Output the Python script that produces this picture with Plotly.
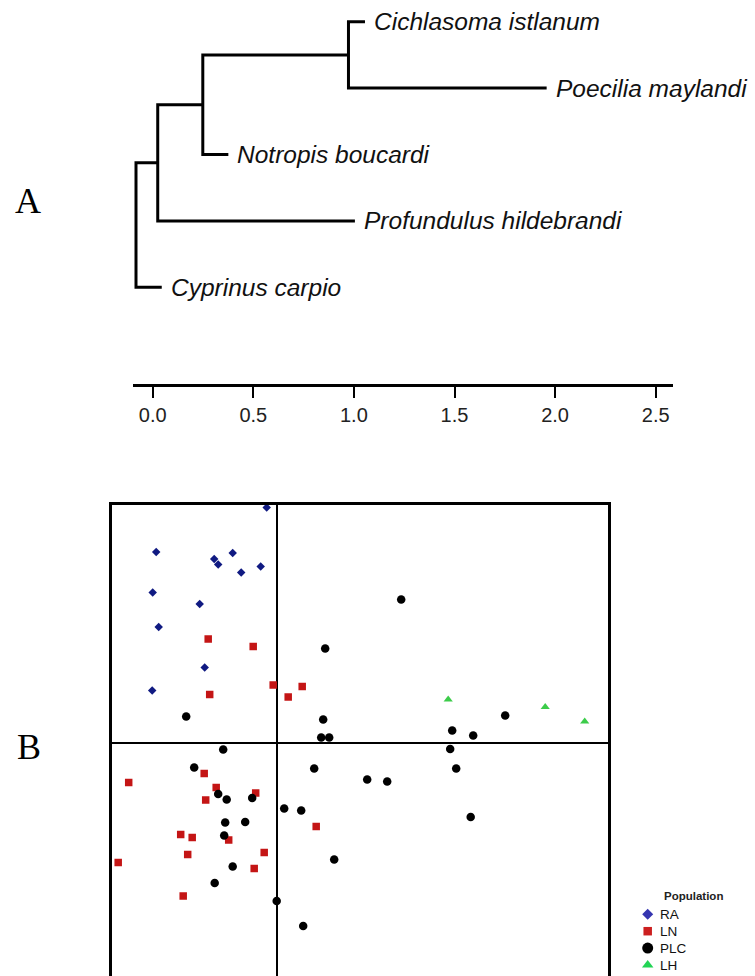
import plotly.graph_objects as go

W, H = 755, 976

# ---------------- Panel A: tree data ----------------
taxa = ["Cichlasoma istlanum", "Poecilia maylandi", "Notropis boucardi",
        "Profundulus hildebrandi", "Cyprinus carpio"]
tip_row = [4, 3, 2, 1, 0]
tip_depth = [1.055, 1.958, 0.376, 1.005, 0.045]

node_names = ["n4", "n3", "n2", "root"]
node_depth = [0.973, 0.249, 0.025, -0.083]
node_children = [["Cichlasoma istlanum", "Poecilia maylandi"],
                 ["n4", "Notropis boucardi"],
                 ["n3", "Profundulus hildebrandi"],
                 ["n2", "Cyprinus carpio"]]
scale_ticks = [0.0, 0.5, 1.0, 1.5, 2.0, 2.5]

# ---------------- Panel B: scatter data ----------------
populations = ["RA", "LN", "PLC", "LH"]
RA_x = [-0.20, -2.41, -1.25, -0.88, -1.17, -0.71, -0.32, -2.48, -1.54, -2.36, -1.44, -2.49]
RA_y = [4.70, 3.81, 3.67, 3.79, 3.56, 3.40, 3.52, 3.00, 2.77, 2.31, 1.50, 1.04]
LN_x = [-1.37, -0.47, -0.07, 0.51, 0.23, -1.34, -2.96, -1.45, -1.21, -0.42, -1.42, 0.79,
        -1.92, -1.69, -0.96, -0.25, -1.78, -3.17, -0.45, -1.87]
LN_y = [2.07, 1.92, 1.15, 1.12, 0.91, 0.96, -0.80, -0.62, -0.90, -1.01, -1.15, -1.68,
        -1.84, -1.90, -1.95, -2.20, -2.24, -2.40, -2.52, -3.07]
PLC_x = [2.49, 0.97, -1.81, 0.93, 4.57, 3.51, 3.93, 0.89, 1.05, -1.07, 3.47, -1.65, 0.75,
         3.59, 1.81, 2.21, -1.17, -1.00, -0.49, 0.15, 0.49, 3.88, -1.03, -0.63, -1.05,
         1.15, -0.88, -1.24, 0.00, 0.53]
PLC_y = [2.86, 1.88, 0.52, 0.46, 0.54, 0.24, 0.14, 0.10, 0.10, -0.14, -0.13, -0.50, -0.52,
         -0.52, -0.74, -0.78, -1.03, -1.14, -1.11, -1.32, -1.36, -1.49, -1.60, -1.59, -1.86,
         -2.34, -2.48, -2.81, -3.17, -3.67]
LH_x = [3.43, 5.37, 6.16]
LH_y = [0.86, 0.71, 0.42]

pop_x = [RA_x, LN_x, PLC_x, LH_x]
pop_y = [RA_y, LN_y, PLC_y, LH_y]
pop_symbol = ["diamond", "square", "circle", "triangle-up"]
pop_color = ["#101a82", "#c41515", "#000000", "#3ccc4a"]
pop_size = [6.5, 7.5, 8.5, 8]
legend_color = ["#3535b0", "#cc1f1f", "#000000", "#22d455"]
legend_size = [8.5, 8.5, 11, 10]

fig = go.Figure()

# ---- tree layout ----
pos = {}
for name, d, r in zip(taxa, tip_depth, tip_row):
    pos[name] = (d, r)
for name, d, ch in zip(node_names, node_depth, node_children):
    ys = [pos[c][1] for c in ch]
    pos[name] = (d, sum(ys) / len(ys))

lx, ly = [], []
for name, d, ch in zip(node_names, node_depth, node_children):
    c1, c2 = ch
    lx += [pos[c1][0], d, d, pos[c2][0], None]
    ly += [pos[c1][1], pos[c1][1], pos[c2][1], pos[c2][1], None]

fig.add_trace(go.Scatter(x=lx, y=ly, mode="lines", xaxis="x", yaxis="y",
                         line=dict(color="black", width=3), showlegend=False,
                         hoverinfo="skip", cliponaxis=False))

for name, d, r in zip(taxa, tip_depth, tip_row):
    fig.add_annotation(x=d, y=r, xref="x", yref="y", text=f"<i>{name}</i>",
                       showarrow=False, xanchor="left", yanchor="middle", xshift=7,
                       font=dict(family="Liberation Sans, Arial", size=24.5, color="#111"))

# ---- scatter panel ----
for p, xs, ys, sym, col, sz in zip(populations, pop_x, pop_y, pop_symbol, pop_color, pop_size):
    fig.add_trace(go.Scatter(x=xs, y=ys, mode="markers", xaxis="x2", yaxis="y2", name=p,
                             marker=dict(symbol=sym, color=col, size=sz, opacity=1,
                                         line=dict(width=0)),
                             showlegend=False, cliponaxis=False))

# ---- manual legend ----
leg_rows = list(range(len(populations)))
fig.add_trace(go.Scatter(x=[0] * len(populations), y=leg_rows, mode="markers",
                         xaxis="x3", yaxis="y3", showlegend=False, hoverinfo="skip",
                         marker=dict(symbol=pop_symbol, color=legend_color, size=legend_size,
                                     opacity=1, line=dict(width=0)), cliponaxis=False))
for p, r in zip(populations, leg_rows):
    fig.add_annotation(x=0, y=r, xref="x3", yref="y3", text=p, showarrow=False,
                       xanchor="left", yanchor="middle", xshift=10,
                       font=dict(family="Liberation Sans, Arial", size=13.5, color="#111"))
fig.add_annotation(x=661.5 / W, y=1 - 895.7 / H, xref="paper", yref="paper",
                   text="<b>Population</b>", showarrow=False, xanchor="left", yanchor="middle",
                   font=dict(family="Liberation Sans, Arial", size=11.5, color="#222"))

# ---- panel letters ----
for letter, cx, cy in [("A", 27.5, 201), ("B", 28.5, 747)]:
    fig.add_annotation(x=cx / W, y=1 - cy / H, xref="paper", yref="paper", text=letter,
                       showarrow=False, xanchor="center", yanchor="middle",
                       font=dict(family="Liberation Serif, Times New Roman", size=36, color="black"))

# ---- axes ----
pxu = 201.2
x0px = 152.7
ax_l, ax_r = 133.3, 672.7
rowpx = 66.4
row0px = 287.3
axis_y_px = 384.3

sx = 50.0
cx0, cy0 = 276.7, 742.5
fl, fr, ft = 111.7, 608.3, 505.0

fig.update_layout(
    width=W, height=H, margin=dict(l=0, r=0, t=0, b=0),
    paper_bgcolor="white", plot_bgcolor="rgba(0,0,0,0)",
    showlegend=False,
    xaxis=dict(domain=[ax_l / W, ax_r / W],
               range=[(ax_l - x0px) / pxu, (ax_r - x0px) / pxu],
               tickvals=scale_ticks, ticktext=[f"{t:.1f}" for t in scale_ticks],
               ticks="outside", ticklen=11, tickwidth=2, tickcolor="black",
               showline=True, linewidth=3, linecolor="black",
               showgrid=False, zeroline=False, anchor="y",
               tickfont=dict(family="Liberation Sans, Arial", size=20, color="#222")),
    yaxis=dict(domain=[1 - axis_y_px / H, 1],
               range=[(row0px - axis_y_px) / rowpx, row0px / rowpx],
               visible=False, anchor="x"),
    xaxis2=dict(domain=[fl / W, fr / W], range=[(fl - cx0) / sx, (fr - cx0) / sx],
                side="top", showline=True, linewidth=3, linecolor="black",
                showticklabels=False, ticks="", showgrid=False,
                zeroline=True, zerolinewidth=1.6, zerolinecolor="black", anchor="y2"),
    yaxis2=dict(domain=[0, 1 - ft / H], range=[(cy0 - H) / sx, (cy0 - ft) / sx],
                showline=True, mirror=True, linewidth=3, linecolor="black",
                showticklabels=False, ticks="", showgrid=False,
                zeroline=True, zerolinewidth=1.6, zerolinecolor="black", anchor="x2"),
    xaxis3=dict(domain=[637.7 / W, 657.7 / W], range=[-1, 1], visible=False, anchor="y3"),
    yaxis3=dict(domain=[1 - 973.45 / H, 1 - 905.85 / H], range=[3.5, -0.5],
                visible=False, anchor="x3"),
)

fig.write_html("out.html")
